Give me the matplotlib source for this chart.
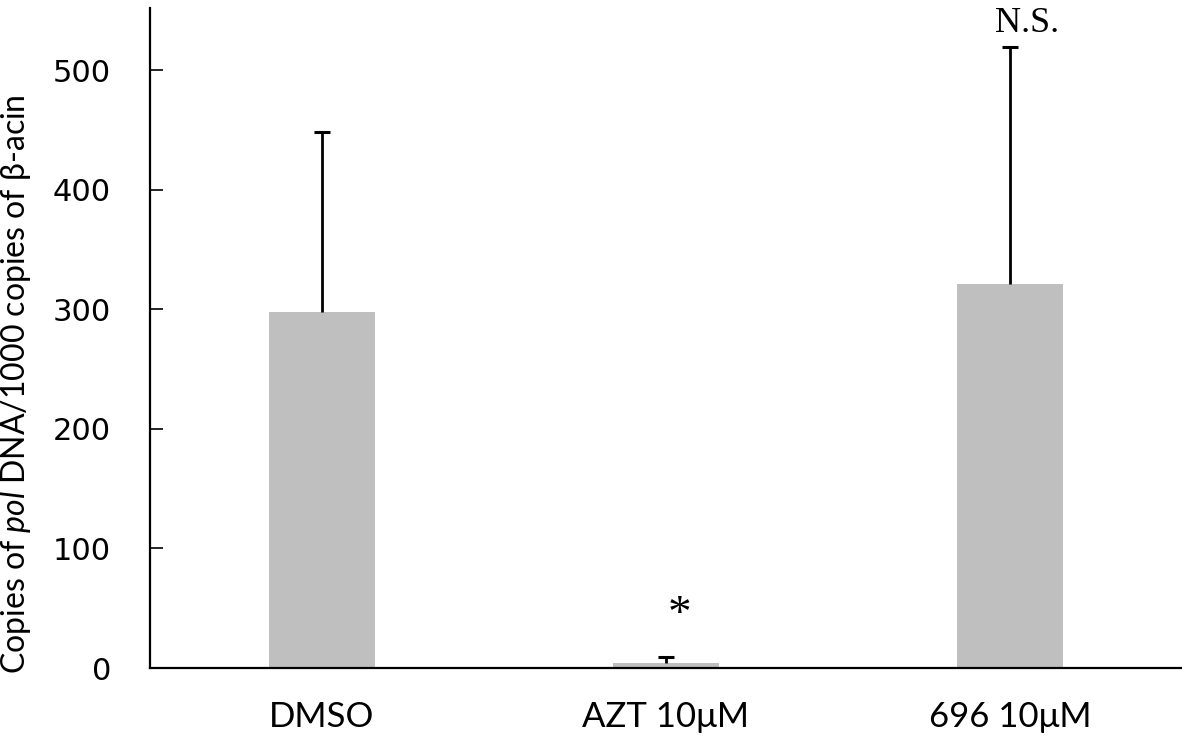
import matplotlib
matplotlib.use("Agg")
import matplotlib.pyplot as plt
import numpy as np

# data
groups = ["DMSO", "AZT 10\u03bcM", "696 10\u03bcM"]
means = [298, 4, 321]
sd_upper = [150, 5, 198]
marks = ["", "*", "N.S."]

plt.rcParams["mathtext.fontset"] = "custom"
plt.rcParams["mathtext.it"] = "Lato:italic"
plt.rcParams["mathtext.rm"] = "Lato"

fig = plt.figure(figsize=(11.82, 7.40), dpi=100)
ax = fig.add_axes([150 / 1182, 72 / 740, 1 - 150 / 1182, 660 / 740])

x = np.arange(len(groups))
ax.bar(x, means, width=0.31, color="#bfbfbf", zorder=2)
# only the upper half of the error bar is shown
_, caps, _ = ax.errorbar(x, means, yerr=[np.zeros(len(means)), sd_upper],
                         fmt="none", ecolor="black", elinewidth=2,
                         capsize=5.5, capthick=2.2, zorder=3)
for c in caps:
    if np.allclose(c.get_ydata(), means):
        c.set_visible(False)

# significance marks
ax.text(x[1] + 0.04, 44, marks[1], ha="center", va="center",
        fontfamily="Liberation Serif", fontsize=34)
ax.text(x[2] + 0.05, 532, marks[2], ha="center", va="baseline",
        fontfamily="Liberation Serif", fontsize=26)

ax.set_xlim(-0.5, 2.5)
ax.set_ylim(0, 552)
ax.set_yticks([0, 100, 200, 300, 400, 500])
ax.set_xticks(x)
ax.set_xticklabels(groups, fontfamily="Lato", fontsize=25)
ax.tick_params(axis="x", length=0, pad=24)
ax.tick_params(axis="y", direction="in", length=9.5, width=1.2, pad=28,
               labelsize=22)
for lbl in ax.get_yticklabels():
    lbl.set_fontfamily("DejaVu Sans")

for side in ["top", "right"]:
    ax.spines[side].set_visible(False)
ax.spines["left"].set_linewidth(1.6)
ax.spines["bottom"].set_linewidth(1.6)

ylab = "Copies of $\\it{pol}$ DNA/1000 copies of \u03b2-acin"
ax.set_ylabel(ylab, fontfamily="Lato", fontsize=23)
ax.yaxis.set_label_coords(-0.113, 0.43)

fig.savefig("out.png", dpi=100)
